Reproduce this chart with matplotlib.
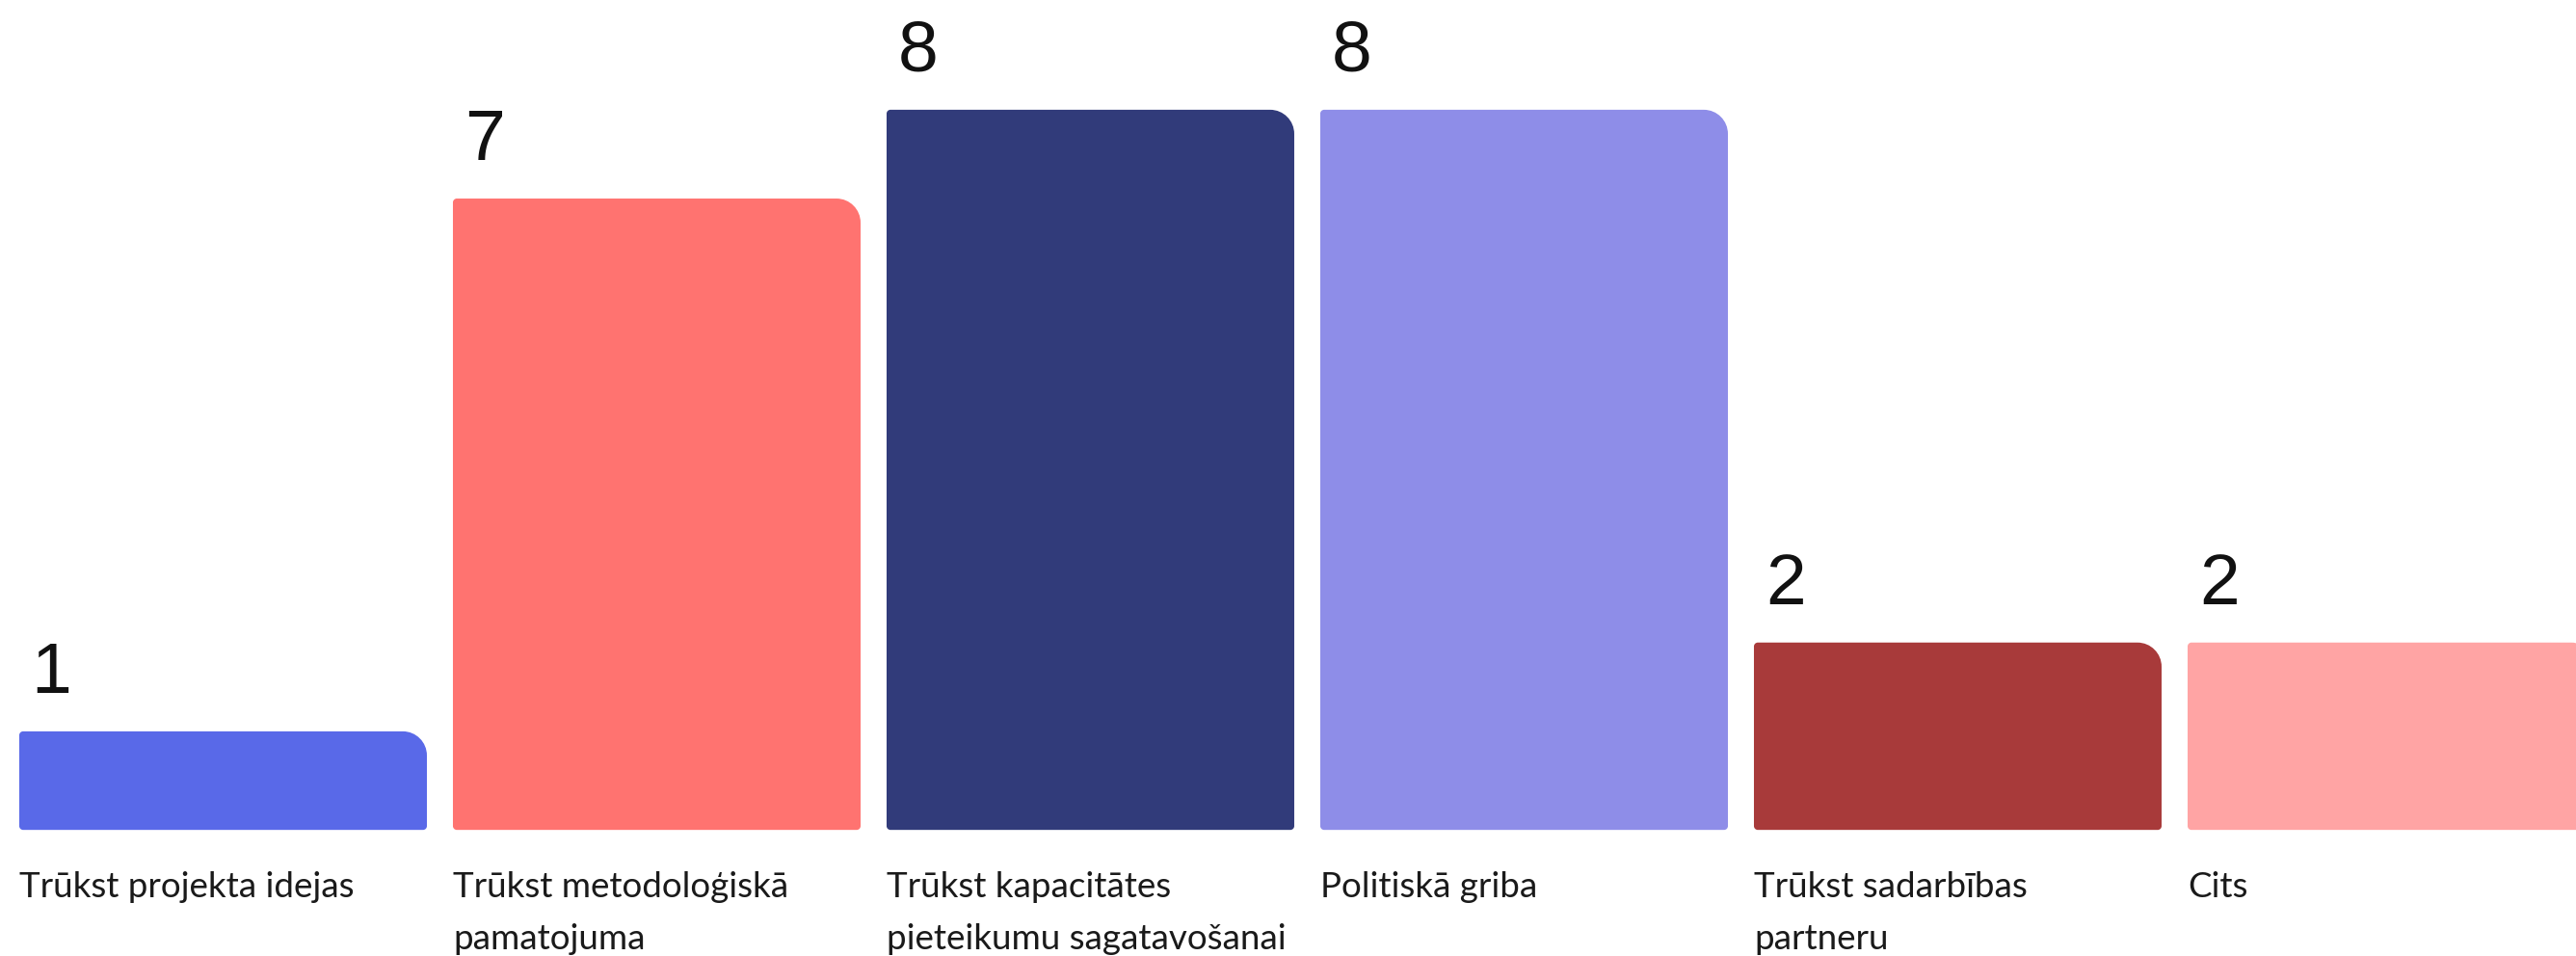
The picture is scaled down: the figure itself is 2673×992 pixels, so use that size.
import numpy as np
import matplotlib
matplotlib.use("Agg")
import matplotlib.pyplot as plt
from matplotlib.path import Path
from matplotlib.patches import PathPatch
from matplotlib import transforms

categories = [
    "Trūkst projekta idejas",
    "Trūkst metodoloģiskā\npamatojuma",
    "Trūkst kapacitātes\npieteikumu sagatavošanai",
    "Politiskā griba",
    "Trūkst sadarbības\npartneru",
    "Cits",
]
values = [1, 7, 8, 8, 2, 2]
colors = ["#5969E8", "#FF7370", "#313B7A", "#8E8DE8", "#A83A3A", "#FFA4A4"]

W, H, DPI = 2673, 992, 100
fig = plt.figure(figsize=(W / DPI, H / DPI), dpi=DPI)
ax = fig.add_axes([0, 0, 1, 1])
ax.set_xlim(-0.5144, 5.4256)
ax.set_ylim(-1.530, 9.236)
ax.axis("off")

bar_w = 0.94
base = -0.11  # bars start slightly below zero like in the source

# pixel -> data scale for corner radii
px_x = (ax.get_xlim()[1] - ax.get_xlim()[0]) / W
px_y = (ax.get_ylim()[1] - ax.get_ylim()[0]) / H
K = 0.5523


def corner(p0, c, p1):
    p0, c, p1 = np.array(p0), np.array(c), np.array(p1)
    return [tuple(p0 + K * (c - p0)), tuple(p1 + K * (c - p1)), tuple(p1)]


def bar_path(x0, x1, y0, y1, R=25, r=4):
    RX, RY = R * px_x, R * px_y
    rx, ry = r * px_x, r * px_y
    verts = [(x0 + rx, y0), (x1 - rx, y0)]
    codes = [Path.MOVETO, Path.LINETO]
    verts += corner((x1 - rx, y0), (x1, y0), (x1, y0 + ry)); codes += [Path.CURVE4] * 3
    verts += [(x1, y1 - RY)]; codes += [Path.LINETO]
    verts += corner((x1, y1 - RY), (x1, y1), (x1 - RX, y1)); codes += [Path.CURVE4] * 3
    verts += [(x0 + rx, y1)]; codes += [Path.LINETO]
    verts += corner((x0 + rx, y1), (x0, y1), (x0, y1 - ry)); codes += [Path.CURVE4] * 3
    verts += [(x0, y0 + ry)]; codes += [Path.LINETO]
    verts += corner((x0, y0 + ry), (x0, y0), (x0 + rx, y0)); codes += [Path.CURVE4] * 3
    verts += [(x0 + rx, y0)]; codes += [Path.CLOSEPOLY]
    return Path(verts, codes)


lab_trans = transforms.blended_transform_factory(ax.transData, ax.transAxes)

for i, (cat, v, c) in enumerate(zip(categories, values, colors)):
    x0 = i - bar_w / 2
    x1 = i + bar_w / 2
    ax.add_patch(PathPatch(bar_path(x0, x1, base, v), facecolor=c, edgecolor="none"))

    # value label above bar, left aligned
    ax.annotate(str(v), xy=(x0, v), xytext=(12 * 0.72, 40 * 0.72),
                textcoords="offset points", ha="left", va="baseline",
                fontsize=54, family="Liberation Sans", color="#111111")

    # category label below, one text per line
    for j, line in enumerate(cat.split("\n")):
        ax.text(x0, (H - 931 - 54 * j) / H, line, transform=lab_trans,
                ha="left", va="baseline", fontsize=26.5, family="Lato",
                color="#1a1a1a")

fig.savefig("out.png", dpi=DPI)
